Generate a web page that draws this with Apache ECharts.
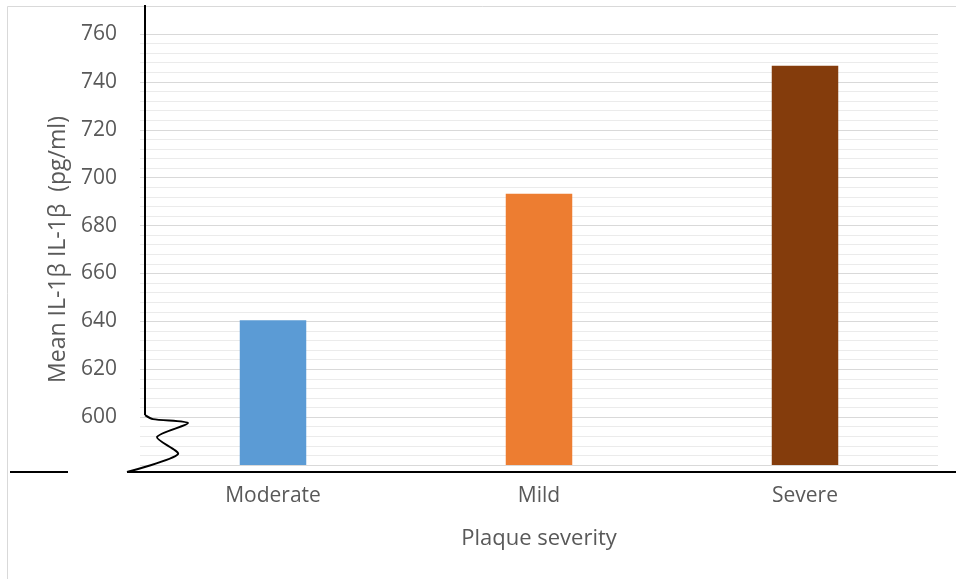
<!DOCTYPE html>
<html>
<head>
<meta charset="utf-8">
<title>Mean IL-1β by plaque severity</title>
<script src="https://cdn.jsdelivr.net/npm/echarts@6/dist/echarts.min.js"></script>
<style>
  html, body { margin: 0; padding: 0; background: #ffffff; }
  #chart { width: 956px; height: 579px; }
</style>
</head>
<body>
<div id="chart"></div>
<script>
// Categories and mean IL-1β values (pg/ml)
const categories = ['Moderate', 'Mild', 'Severe'];
const meanValues = [640.5, 693.3, 746.7];
const barColors = ['#5B9BD5', '#ED7D31', '#843C0C'];

// Value axis range (broken at the bottom, shown from 600 upward)
const axisMin = 580;
const axisMax = 760;
const axisStep = 20;

const FONT = '"Open Sans", "Noto Sans", sans-serif';
const TEXT_COLOR = '#595959';

const chart = echarts.init(document.getElementById('chart'), null, { renderer: 'canvas' });

const option = {
  backgroundColor: '#ffffff',
  animation: false,
  grid: { left: 140, right: 18, top: 34, bottom: 114, containLabel: false },
  xAxis: {
    type: 'category',
    data: categories,
    axisLine: { show: false },
    axisTick: { show: false },
    axisLabel: { color: TEXT_COLOR, fontSize: 21, fontFamily: FONT, margin: 21 },
    name: 'Plaque severity',
    nameLocation: 'middle',
    nameGap: 63,
    nameTextStyle: { color: TEXT_COLOR, fontSize: 22, fontFamily: FONT }
  },
  yAxis: {
    type: 'value',
    min: axisMin,
    max: axisMax,
    interval: axisStep,
    axisLine: { show: false },
    axisTick: { show: false },
    axisLabel: {
      color: TEXT_COLOR, fontSize: 21, fontFamily: FONT, margin: 23,
      showMinLabel: false
    },
    splitLine: { show: true, lineStyle: { color: '#d9d9d9', width: 1 } },
    minorTick: { show: false, splitNumber: 5 },
    minorSplitLine: { show: true, lineStyle: { color: '#ebebeb', width: 1 } },
    name: 'Mean IL-1β IL-1β  (pg/ml)',
    nameLocation: 'middle',
    nameGap: 68,
    nameRotate: 90,
    nameTextStyle: { color: TEXT_COLOR, fontSize: 23, fontFamily: FONT }
  },
  series: [{
    type: 'bar',
    barWidth: '25%',
    data: meanValues.map((v, i) => ({ value: v, itemStyle: { color: barColors[i] } }))
  }]
};

chart.setOption(option);

// Hand-drawn style axis with a zig-zag break below 600
function drawAxisDecor() {
  const yBreak = chart.convertToPixel({ yAxisIndex: 0 }, 600);
  const yBase = chart.convertToPixel({ yAxisIndex: 0 }, axisMin);
  const xLine = 145;
  const yFloor = yBase + 7;
  chart.setOption({
    graphic: [
      {
        type: 'rect', silent: true, z: -1,
        shape: { x: 7.5, y: 6.5, width: 960, height: 600 },
        style: { fill: 'none', stroke: '#d9d9d9', lineWidth: 1 }
      },
      {
        type: 'line', silent: true, z: 100,
        shape: { x1: xLine, y1: 5, x2: xLine, y2: yBreak - 2 },
        style: { stroke: '#000000', lineWidth: 2 }
      },
      {
        type: 'polyline', silent: true, z: 100,
        shape: {
          points: [
            [xLine, yBreak - 2],
            [xLine + 8, yBreak + 2],
            [188, yBreak + 6],
            [157, yBreak + 20],
            [178, yBreak + 37],
            [127, yFloor]
          ],
          smooth: 0.25
        },
        style: { stroke: '#000000', lineWidth: 2, fill: 'none' }
      },
      {
        type: 'line', silent: true, z: 100,
        shape: { x1: 10, y1: yFloor, x2: 68, y2: yFloor },
        style: { stroke: '#000000', lineWidth: 2 }
      },
      {
        type: 'line', silent: true, z: 100,
        shape: { x1: 127, y1: yFloor, x2: 956, y2: yFloor },
        style: { stroke: '#000000', lineWidth: 2 }
      }
    ]
  });
}
drawAxisDecor();
</script>
</body>
</html>
